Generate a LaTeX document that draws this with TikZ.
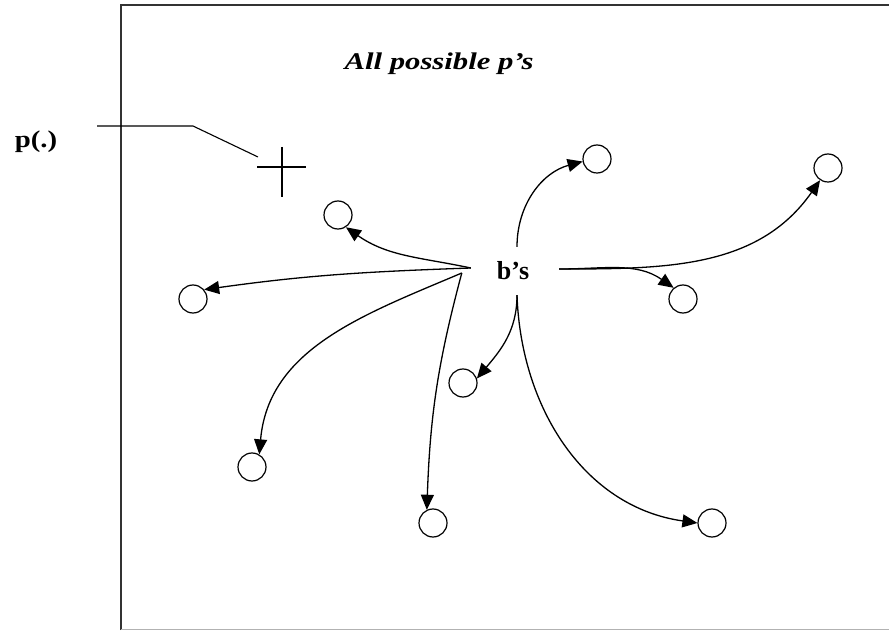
\documentclass[tikz,border=0pt]{standalone}
\usepackage{fontspec}
\setmainfont{Liberation Serif}
\usetikzlibrary{arrows.meta}
\begin{document}
\begin{tikzpicture}[x=1pt,y=1pt,
  frameline/.style={draw=black!80,line width=2pt},
  state/.style={circle,draw,line width=1.2pt,minimum size=28pt,inner sep=0pt},
  flow/.style={line width=1.3pt,-{Triangle[length=15pt,width=13pt]}},
  lead/.style={line width=1.1pt},
  label/.style={font=\bfseries,inner sep=0pt}]
\useasboundingbox (0,0) rectangle (889,630);
% frame of the space of all p's
\draw[frameline] (121,0) -- (121,625) -- (889,625);
\draw[black!30,line width=1pt] (121,0.5) -- (889,0.5);
\node[font=\bfseries\itshape\fontsize{24}{26}\selectfont,inner sep=0pt] (title) at (439,566) {\scalebox{1.28}[1]{All possible p’s}};
% the point p(.) and its pointer
\node[label,font=\bfseries\fontsize{24}{26}\selectfont] (p) at (36,488) {\scalebox{1.2}[1]{p(.)}};
\coordinate (pc) at (282,463);
\coordinate (lead0) at (97,504);
\coordinate (lead1) at (193,504);
\coordinate (lead2) at (258,473);
\draw[lead] (lead0) -- (lead1) -- (lead2);
\draw[lead] ([xshift=-25pt]pc) -- ([xshift=24pt]pc);
\draw[lead] ([yshift=20pt]pc) -- ([yshift=-30pt]pc);
% the b's and their images
\node[font=\bfseries\fontsize{26}{28}\selectfont,minimum width=92pt,minimum height=48pt,inner sep=0pt] (b) at (513,359) {b’s};
\node[state] (c1) at (597,471) {};
\node[state] (c2) at (828,462) {};
\node[state] (c3) at (338,415) {};
\node[state] (c4) at (193,331) {};
\node[state] (c5) at (683,331) {};
\node[state] (c6) at (463,247) {};
\node[state] (c7) at (252,163) {};
\node[state] (c8) at (433,107) {};
\node[state] (c9) at (712,107) {};
\draw[flow] ([xshift=4pt]b.north) to[out=90,in=195] (c1.190);
\draw[flow] ([yshift=2pt]b.east) to[out=0,in=235] (c2.237);
\draw[flow] ([yshift=2pt]b.east) to[out=0,in=145] (c5.130);
\draw[flow] ([xshift=4pt,yshift=3pt]b.west) to[out=168,in=-35] (c3.-57);
\draw[flow] ([xshift=4pt,yshift=3pt]b.west) to[out=182,in=8] (c4.40);
\draw[flow] ([xshift=-5pt,yshift=-2pt]b.west) to[out=203,in=85] (c7.60);
\draw[flow] ([xshift=-5pt,yshift=-2pt]b.west) to[out=255,in=88] (c8.115);
\draw[flow] ([xshift=4pt]b.south) to[out=270,in=50] (c6.18);
\draw[flow] ([xshift=4pt]b.south) to[out=272,in=172] (c9.180);
\end{tikzpicture}
\end{document}
